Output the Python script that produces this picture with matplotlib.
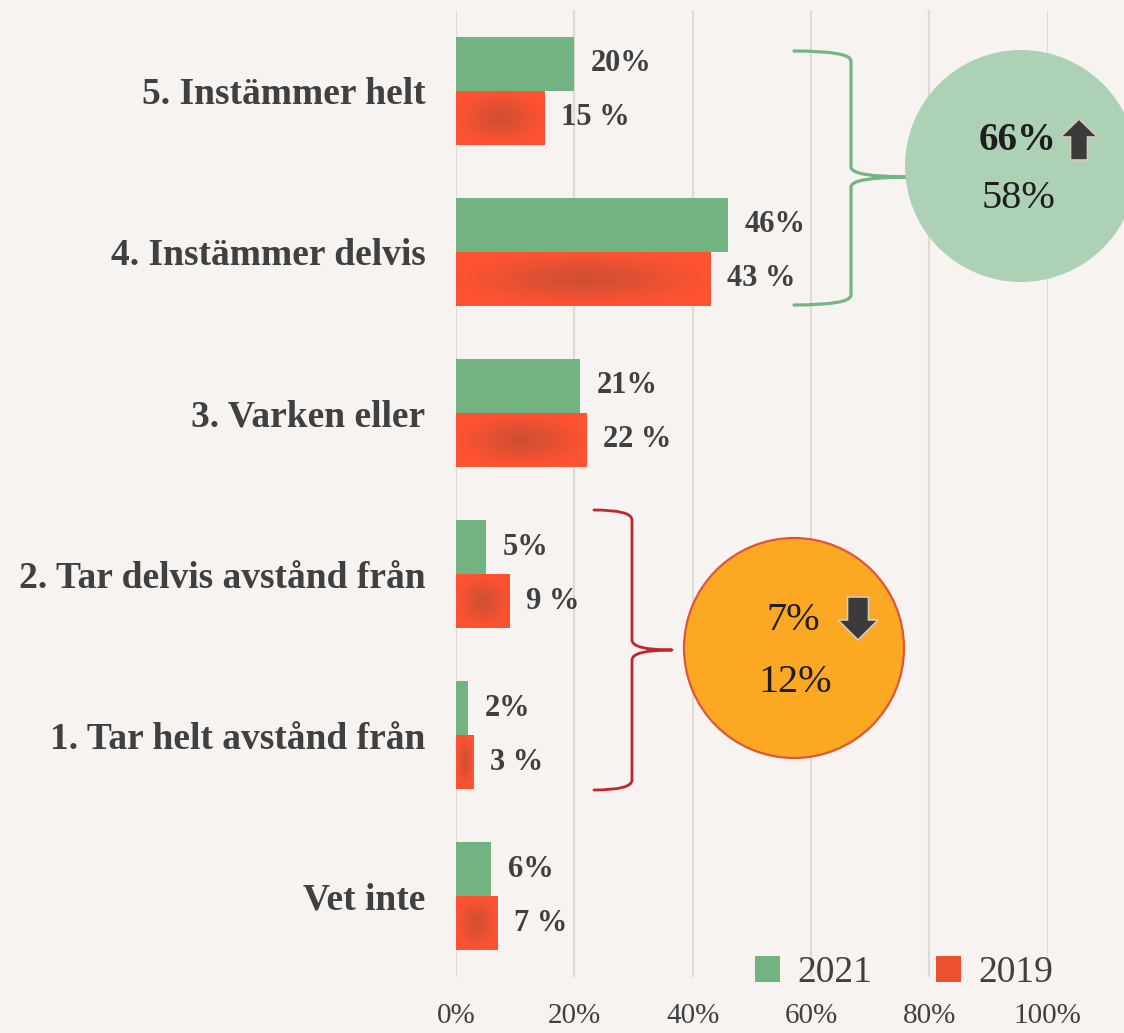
import numpy as np
import matplotlib
matplotlib.use("Agg")
import matplotlib.pyplot as plt
from matplotlib.patches import Circle, Polygon, PathPatch, Patch
from matplotlib.path import Path
from matplotlib.colors import to_rgb

# ---- data ----
categories = ["5. Instämmer helt", "4. Instämmer delvis", "3. Varken eller",
              "2. Tar delvis avstånd från", "1. Tar helt avstånd från", "Vet inte"]
values_2021 = [20, 46, 21, 5, 2, 6]
values_2019 = [15, 43, 22, 9, 3, 7]
labels_2021 = ["20%", "46%", "21%", "5%", "2%", "6%"]
labels_2019 = ["15 %", "43 %", "22 %", "9 %", "3 %", "7 %"]
xticks = [0, 20, 40, 60, 80, 100]
xticklabels = ["0%", "20%", "40%", "60%", "80%", "100%"]
agree_2021, agree_2019 = "66%", "58%"
disagree_2021, disagree_2019 = "7%", "12%"

BG = "#f7f3f0"
GREEN = "#72b382"
RED = "#fe5333"
RED_DARK = "#cf4f32"
TXT = "#404040"
FONT = "Liberation Serif"
plt.rcParams["font.family"] = [FONT, "DejaVu Serif"]

W, H = 1124, 1033
fig = plt.figure(figsize=(W / 100, H / 100), dpi=100, facecolor=BG)
ax = fig.add_axes([456 / W, 1 - 977 / H, (1047.5 - 456) / W, (977 - 10) / H])
ax.set_facecolor(BG)

y = np.arange(len(categories))
bh = 0.335
b21 = ax.barh(y - bh / 2, values_2021, height=bh, color=GREEN, zorder=2, label="2021")
b19 = ax.barh(y + bh / 2, values_2019, height=bh, color=RED, zorder=2, label="2019")

# radial gradient on 2019 bars
n = 120
gx, gy = np.meshgrid(np.linspace(-1, 1, n), np.linspace(-1, 1, n))
r = np.clip(np.sqrt(gx ** 2 + gy ** 2), 0, 1)
c0 = np.array(to_rgb(RED_DARK))
c1 = np.array(to_rgb(RED))
t = (r ** 1.1)[..., None]
img = c0 * (1 - t) + c1 * t
for p in b19.patches:
    x0, y0, w, h = p.get_x(), p.get_y(), p.get_width(), p.get_height()
    im = ax.imshow(img, extent=(x0, x0 + w, y0 + h, y0), aspect="auto", zorder=3,
                   interpolation="bilinear")
    im.set_clip_path(p)

ax.set_xlim(0, 100)
ax.set_ylim(5.5, -0.5)
ax.set_yticks(y)
ax.set_yticklabels(categories, fontsize=27, fontweight="bold", color=TXT)
ax.set_xticks(xticks)
ax.set_xticklabels(xticklabels, fontsize=21, color=TXT)
ax.tick_params(axis="y", length=0, pad=22)
ax.tick_params(axis="x", length=0, pad=19)
for s in ax.spines.values():
    s.set_visible(False)
ax.grid(axis="x", color="#dedbd7", linewidth=1.6, zorder=0)
ax.set_axisbelow(True)

for i in range(len(categories)):
    ax.annotate(labels_2021[i], (values_2021[i], y[i] - bh / 2), xytext=(12, 0),
                textcoords="offset points", va="center", ha="left",
                fontsize=22, fontweight="bold", color=TXT)
    ax.annotate(labels_2019[i], (values_2019[i], y[i] + bh / 2), xytext=(12, 0),
                textcoords="offset points", va="center", ha="left",
                fontsize=22, fontweight="bold", color=TXT)

# legend
handles = [Patch(facecolor=GREEN), Patch(facecolor="#ec5030")]
leg = fig.legend(handles, ["2021", "2019"], ncol=2, frameon=False,
                 loc="center", bbox_to_anchor=(904 / W, 1 - 973 / H),
                 fontsize=27, handlelength=0.68, handleheight=0.68,
                 handletextpad=0.45, columnspacing=1.7)
for txt in leg.get_texts():
    txt.set_color(TXT)

# ---- overlay annotations in pixel coordinates ----
ov = fig.add_axes([0, 0, 1, 1], zorder=5)
ov.set_xlim(0, W)
ov.set_ylim(H, 0)
ov.axis("off")
ov.patch.set_alpha(0)

def brace(x_end, x_mid, x_tip, y_top, y_tip, y_bot, color, lw):
    c = 10
    verts = [(x_end, y_top), (x_mid, y_top), (x_mid, y_top + c),
             (x_mid, y_tip - c), (x_mid, y_tip), (x_tip, y_tip),
             (x_mid, y_tip), (x_mid, y_tip + c),
             (x_mid, y_bot - c), (x_mid, y_bot), (x_end, y_bot)]
    codes = [Path.MOVETO, Path.CURVE3, Path.CURVE3,
             Path.LINETO, Path.CURVE3, Path.CURVE3,
             Path.CURVE3, Path.CURVE3,
             Path.LINETO, Path.CURVE3, Path.CURVE3]
    ov.add_patch(PathPatch(Path(verts, codes), facecolor="none", edgecolor=color,
                           lw=lw, capstyle="round", joinstyle="round"))

brace(794, 851, 910, 51, 177, 305, "#74b584", 2.3)
brace(594, 632, 672, 510, 650, 790, "#c0262d", 2.0)

ov.add_patch(Circle((1021, 166), 116, facecolor="#acd1b5", edgecolor="none"))
ov.add_patch(Circle((794, 648), 110, facecolor="#fca823", edgecolor="#e0553a", lw=1.6))

ov.text(1018, 140, agree_2021, ha="center", va="center", fontsize=28,
        fontweight="bold", color="#1e1e1e")
ov.text(1018, 198, agree_2019, ha="center", va="center", fontsize=29, color="#1e1e1e")
ov.text(793, 621, disagree_2021, ha="center", va="center", fontsize=29, color="#1e1e1e")
ov.text(795, 682, disagree_2019, ha="center", va="center", fontsize=29, color="#1e1e1e")

def block_arrow(cx, y_tip, y_head, y_base, hw, sw):
    pts = [(cx, y_tip), (cx + hw / 2, y_head), (cx + sw / 2, y_head),
           (cx + sw / 2, y_base), (cx - sw / 2, y_base), (cx - sw / 2, y_head),
           (cx - hw / 2, y_head)]
    ov.add_patch(Polygon(pts, closed=True, facecolor="#3b3b3b",
                         edgecolor="#d9c9b9", lw=1.2))

block_arrow(1079, 119, 137, 160, 37, 17)
block_arrow(858, 640, 620, 597, 40, 21)

fig.savefig("out.png", dpi=100, facecolor=BG)
